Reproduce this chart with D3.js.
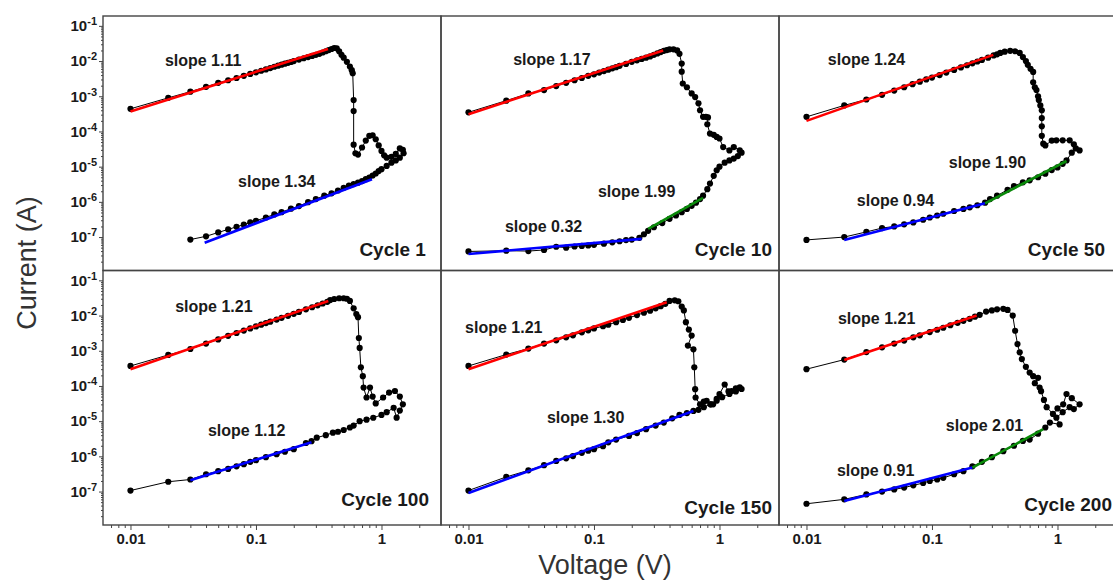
<!DOCTYPE html>
<html><head><meta charset="utf-8">
<script src="https://cdn.jsdelivr.net/npm/d3@7"></script>
<style>
body{margin:0;background:#fff;}
svg{display:block;font-family:"Liberation Sans",Arial,sans-serif;}
</style>
</head><body>
<svg id="chart" width="1113" height="581"></svg>
<script>
// ---------------- DATA ----------------
const cycleNames = ["Cycle 1","Cycle 10","Cycle 50","Cycle 100","Cycle 150","Cycle 200"];

// I-V sweeps [voltage V, current A] in measurement order
const sweep1 = [[0.01,4.4e-4],[0.02,9.0e-4],[0.03,1.35e-3],[0.04,1.85e-3],[0.05,2.4e-3],[0.06,2.85e-3],[0.07,3.3e-3],[0.08,3.8e-3],[0.09,4.3e-3],[0.1,4.8e-3],[0.11,5.3e-3],[0.12,5.8e-3],[0.13,6.3e-3],[0.14,6.9e-3],[0.15,7.4e-3],[0.16,7.9e-3],[0.17,8.4e-3],[0.18,8.9e-3],[0.19,9.4e-3],[0.2,1.0e-2],[0.22,1.1e-2],[0.24,1.2e-2],[0.26,1.3e-2],[0.28,1.4e-2],[0.3,1.5e-2],[0.32,1.6e-2],[0.34,1.75e-2],[0.36,1.9e-2],[0.38,2.05e-2],[0.4,2.2e-2],[0.42,2.35e-2],[0.44,2.3e-2],[0.46,1.9e-2],[0.48,1.5e-2],[0.5,1.25e-2],[0.53,9.5e-3],[0.56,7.0e-3],[0.58,5.5e-3],[0.59,4.5e-3],[0.6,7.8e-4],[0.6,3.8e-4],[0.6,4.2e-5],[0.62,2.4e-5],[0.65,2.2e-5],[0.7,3.5e-5],[0.75,5.5e-5],[0.8,7.5e-5],[0.85,7.8e-5],[0.9,6.0e-5],[0.95,4.0e-5],[1.0,2.8e-5],[1.05,2.1e-5],[1.1,1.8e-5],[1.2,1.9e-5],[1.3,2.3e-5],[1.4,3.3e-5],[1.48,3.0e-5],[1.5,2.4e-5],[1.4,1.8e-5],[1.3,1.5e-5],[1.2,1.3e-5],[1.1,1.05e-5],[1.0,8.5e-6],[0.95,7.5e-6],[0.9,6.4e-6],[0.85,5.6e-6],[0.8,4.9e-6],[0.75,4.4e-6],[0.7,3.9e-6],[0.65,3.5e-6],[0.6,3.2e-6],[0.55,2.9e-6],[0.5,2.5e-6],[0.45,2.1e-6],[0.4,1.75e-6],[0.35,1.5e-6],[0.3,1.2e-6],[0.26,9.8e-7],[0.22,7.6e-7],[0.19,6.4e-7],[0.16,5.1e-7],[0.14,4.4e-7],[0.12,3.6e-7],[0.1,2.9e-7],[0.09,2.6e-7],[0.08,2.25e-7],[0.07,1.95e-7],[0.06,1.65e-7],[0.05,1.35e-7],[0.04,1.05e-7],[0.03,8.5e-8]];

const sweep10 = [[0.01,3.5e-4],[0.02,7.5e-4],[0.03,1.2e-3],[0.04,1.5e-3],[0.05,1.95e-3],[0.06,2.4e-3],[0.07,2.85e-3],[0.08,3.3e-3],[0.09,3.8e-3],[0.1,4.2e-3],[0.11,4.7e-3],[0.12,5.2e-3],[0.13,5.7e-3],[0.14,6.2e-3],[0.15,6.7e-3],[0.16,7.3e-3],[0.18,8.3e-3],[0.2,9.5e-3],[0.22,1.05e-2],[0.24,1.15e-2],[0.26,1.25e-2],[0.28,1.35e-2],[0.3,1.5e-2],[0.32,1.65e-2],[0.34,1.8e-2],[0.36,1.95e-2],[0.38,2.05e-2],[0.4,2.15e-2],[0.43,2.15e-2],[0.46,2.0e-2],[0.48,1.6e-2],[0.5,8.5e-3],[0.5,5.0e-3],[0.51,2.3e-3],[0.55,1.8e-3],[0.6,1.2e-3],[0.64,9.5e-4],[0.68,6.3e-4],[0.7,4.0e-4],[0.74,2.6e-4],[0.78,2.6e-4],[0.81,2.5e-4],[0.8,1.6e-4],[0.84,8.7e-5],[0.9,8.0e-5],[0.95,7.0e-5],[1.0,6.3e-5],[1.07,3.6e-5],[1.2,2.9e-5],[1.3,3.6e-5],[1.45,2.9e-5],[1.5,2.5e-5],[1.4,2.0e-5],[1.3,1.7e-5],[1.2,1.5e-5],[1.1,1.3e-5],[1.0,1.0e-5],[0.95,7.9e-6],[0.9,5.5e-6],[0.84,3.3e-6],[0.8,2.3e-6],[0.74,1.5e-6],[0.7,1.2e-6],[0.65,9.5e-7],[0.6,7.7e-7],[0.55,6.3e-7],[0.5,5.1e-7],[0.45,4.1e-7],[0.4,3.3e-7],[0.35,2.5e-7],[0.3,1.9e-7],[0.27,1.5e-7],[0.25,1.2e-7],[0.23,9.5e-8],[0.2,8.5e-8],[0.18,8.2e-8],[0.16,7.6e-8],[0.14,7.1e-8],[0.12,6.5e-8],[0.1,6.0e-8],[0.09,5.8e-8],[0.08,5.6e-8],[0.07,5.4e-8],[0.06,5.0e-8],[0.05,5.3e-8],[0.04,4.3e-8],[0.03,4.0e-8],[0.02,4.1e-8],[0.01,3.9e-8]];

const sweep50 = [[0.01,2.6e-4],[0.02,5.5e-4],[0.03,8.1e-4],[0.04,1.1e-3],[0.05,1.45e-3],[0.06,1.8e-3],[0.07,2.2e-3],[0.08,2.6e-3],[0.09,3.0e-3],[0.1,3.4e-3],[0.115,4.0e-3],[0.13,4.7e-3],[0.15,5.6e-3],[0.17,6.6e-3],[0.19,7.6e-3],[0.21,8.6e-3],[0.23,9.7e-3],[0.25,1.08e-2],[0.28,1.25e-2],[0.31,1.45e-2],[0.33,1.55e-2],[0.35,1.7e-2],[0.38,1.85e-2],[0.42,1.95e-2],[0.46,1.9e-2],[0.5,1.7e-2],[0.53,1.3e-2],[0.56,1.0e-2],[0.58,7.8e-3],[0.61,6.0e-3],[0.64,4.9e-3],[0.64,2.5e-3],[0.66,1.8e-3],[0.68,1.5e-3],[0.7,1.0e-3],[0.71,7.8e-4],[0.73,5.5e-4],[0.75,4.0e-4],[0.75,2.4e-4],[0.75,1.4e-4],[0.75,7.5e-5],[0.77,4.5e-5],[0.8,4.0e-5],[0.9,5.5e-5],[0.98,5.6e-5],[1.1,5.6e-5],[1.25,5.6e-5],[1.35,4.3e-5],[1.5,2.9e-5],[1.4,3.3e-5],[1.3,2.5e-5],[1.18,1.5e-5],[1.1,1.2e-5],[1.0,9.5e-6],[0.9,8.0e-6],[0.8,6.3e-6],[0.7,5.0e-6],[0.6,4.1e-6],[0.53,3.6e-6],[0.45,2.8e-6],[0.4,2.2e-6],[0.33,1.5e-6],[0.29,1.2e-6],[0.265,9.5e-7],[0.23,8.0e-7],[0.2,7.0e-7],[0.178,6.3e-7],[0.15,5.5e-7],[0.123,4.6e-7],[0.11,4.1e-7],[0.096,3.6e-7],[0.085,3.1e-7],[0.071,2.6e-7],[0.06,2.3e-7],[0.05,2.0e-7],[0.04,1.8e-7],[0.03,1.4e-7],[0.02,1.0e-7],[0.01,8.3e-8]];

const sweep100 = [[0.01,3.7e-4],[0.02,7.6e-4],[0.03,1.12e-3],[0.04,1.6e-3],[0.05,2.1e-3],[0.06,2.65e-3],[0.07,3.2e-3],[0.08,3.75e-3],[0.09,4.3e-3],[0.1,4.9e-3],[0.11,5.5e-3],[0.12,6.1e-3],[0.13,6.7e-3],[0.146,7.7e-3],[0.16,8.6e-3],[0.18,9.8e-3],[0.2,1.12e-2],[0.22,1.27e-2],[0.25,1.5e-2],[0.28,1.72e-2],[0.31,1.95e-2],[0.34,2.2e-2],[0.37,2.45e-2],[0.39,2.75e-2],[0.42,2.95e-2],[0.46,3.1e-2],[0.5,3.1e-2],[0.53,3.0e-2],[0.56,2.6e-2],[0.6,1.6e-2],[0.63,1.1e-2],[0.65,9.0e-3],[0.66,2.3e-3],[0.67,1.2e-3],[0.685,3.4e-4],[0.71,1.9e-4],[0.72,9.0e-5],[0.76,4.7e-5],[0.81,9.0e-5],[0.85,5.0e-5],[0.9,3.2e-5],[1.03,4.7e-5],[1.15,6.5e-5],[1.28,7.2e-5],[1.4,5.0e-5],[1.48,3.0e-5],[1.4,2.0e-5],[1.32,1.26e-5],[1.25,2.4e-5],[1.1,1.8e-5],[1.0,1.5e-5],[0.86,1.25e-5],[0.76,1.1e-5],[0.67,1.0e-5],[0.6,7.5e-6],[0.56,6.6e-6],[0.5,5.6e-6],[0.45,5.0e-6],[0.41,4.7e-6],[0.36,4.0e-6],[0.305,3.4e-6],[0.277,2.7e-6],[0.25,2.4e-6],[0.2,1.6e-6],[0.17,1.35e-6],[0.146,1.15e-6],[0.12,9.5e-7],[0.1,7.8e-7],[0.09,7.0e-7],[0.08,6.0e-7],[0.07,5.2e-7],[0.06,4.4e-7],[0.05,3.8e-7],[0.04,3.1e-7],[0.03,2.2e-7],[0.02,1.9e-7],[0.01,1.07e-7]];

const sweep150 = [[0.01,3.7e-4],[0.02,7.8e-4],[0.03,1.15e-3],[0.04,1.6e-3],[0.05,1.98e-3],[0.06,2.4e-3],[0.068,2.75e-3],[0.08,3.35e-3],[0.09,3.8e-3],[0.1,4.3e-3],[0.118,5.0e-3],[0.13,5.5e-3],[0.15,6.5e-3],[0.17,7.5e-3],[0.19,8.6e-3],[0.22,1.03e-2],[0.25,1.2e-2],[0.28,1.38e-2],[0.31,1.6e-2],[0.34,1.85e-2],[0.37,2.15e-2],[0.4,2.6e-2],[0.44,2.7e-2],[0.47,2.55e-2],[0.5,1.8e-2],[0.52,1.4e-2],[0.54,6.5e-3],[0.57,4.0e-3],[0.6,2.7e-3],[0.56,1.4e-3],[0.62,1.1e-3],[0.63,3.4e-4],[0.64,8.1e-5],[0.645,4.7e-5],[0.7,3.0e-5],[0.75,3.6e-5],[0.79,3.8e-5],[0.85,3.0e-5],[0.89,3.0e-5],[0.95,4.3e-5],[1.0,5.9e-5],[1.1,1.1e-4],[1.18,7.0e-5],[1.25,7.2e-5],[1.35,8.5e-5],[1.45,9.1e-5],[1.5,8.2e-5],[1.35,7.0e-5],[1.2,5.9e-5],[1.05,4.8e-5],[0.95,3.8e-5],[0.85,3.0e-5],[0.75,2.5e-5],[0.68,2.1e-5],[0.62,1.95e-5],[0.55,1.7e-5],[0.48,1.5e-5],[0.42,1.2e-5],[0.36,9.1e-6],[0.31,7.5e-6],[0.26,5.9e-6],[0.22,4.6e-6],[0.19,3.8e-6],[0.15,3.0e-6],[0.13,2.5e-6],[0.118,1.95e-6],[0.1,1.6e-6],[0.09,1.45e-6],[0.08,1.26e-6],[0.068,1.02e-6],[0.06,8.8e-7],[0.05,7.4e-7],[0.04,5.6e-7],[0.03,4.0e-7],[0.02,2.6e-7],[0.01,1.07e-7]];

const sweep200 = [[0.01,3.0e-4],[0.02,5.6e-4],[0.03,9.2e-4],[0.04,1.25e-3],[0.05,1.6e-3],[0.06,1.95e-3],[0.071,2.4e-3],[0.08,2.75e-3],[0.096,3.4e-3],[0.11,3.95e-3],[0.123,4.5e-3],[0.14,5.3e-3],[0.16,6.2e-3],[0.178,7.1e-3],[0.2,8.1e-3],[0.22,9.3e-3],[0.24,1.05e-2],[0.27,1.3e-2],[0.3,1.4e-2],[0.33,1.5e-2],[0.37,1.55e-2],[0.4,1.45e-2],[0.44,1.0e-2],[0.46,3.7e-3],[0.48,1.55e-3],[0.5,9.0e-4],[0.52,5.8e-4],[0.56,3.5e-4],[0.6,2.4e-4],[0.64,1.9e-4],[0.7,1.7e-4],[0.66,1.2e-4],[0.72,9.0e-5],[0.74,7.1e-5],[0.78,4.0e-5],[0.82,2.5e-5],[0.92,1.6e-5],[1.0,2.3e-5],[1.11,3.0e-5],[1.18,5.9e-5],[1.3,4.5e-5],[1.5,3.0e-5],[1.35,2.2e-5],[1.25,2.5e-5],[1.1,1.8e-5],[0.98,1.26e-5],[1.04,8.1e-6],[0.87,9.1e-6],[0.8,6.6e-6],[0.7,4.4e-6],[0.6,3.0e-6],[0.53,2.75e-6],[0.45,2.0e-6],[0.37,1.4e-6],[0.3,9.5e-7],[0.25,7.0e-7],[0.21,5.2e-7],[0.178,3.8e-7],[0.15,3.1e-7],[0.123,2.45e-7],[0.11,2.2e-7],[0.096,2.0e-7],[0.085,1.75e-7],[0.071,1.5e-7],[0.06,1.3e-7],[0.05,1.15e-7],[0.04,1.0e-7],[0.03,8.3e-8],[0.02,6.0e-8],[0.01,4.5e-8]];

// power-law fit segments: kind, [V start, V end], [I start, I end]
const fits1   = [{kind:"high",v:[0.01,0.375],i:[3.7e-4,2.2e-2]},{kind:"low",v:[0.039,0.84],i:[6.9e-8,4.4e-6]}];
const fits10  = [{kind:"high",v:[0.01,0.356],i:[3.1e-4,2.0e-2]},{kind:"low",v:[0.01,0.24],i:[3.3e-8,8.9e-8]},{kind:"mid",v:[0.27,0.74],i:[1.7e-7,1.3e-6]}];
const fits50  = [{kind:"high",v:[0.01,0.308],i:[2.0e-4,1.5e-2]},{kind:"low",v:[0.02,0.265],i:[8.3e-8,9.1e-7]},{kind:"mid",v:[0.265,1.18],i:[9.1e-7,1.45e-5]}];
const fits100 = [{kind:"high",v:[0.01,0.377],i:[3.0e-4,2.6e-2]},{kind:"low",v:[0.03,0.277],i:[2.1e-7,2.5e-6]}];
const fits150 = [{kind:"high",v:[0.01,0.38],i:[3.0e-4,2.4e-2]},{kind:"low",v:[0.01,0.62],i:[9.1e-8,1.95e-5]}];
const fits200 = [{kind:"high",v:[0.02,0.227],i:[5.5e-4,1.0e-2]},{kind:"low",v:[0.02,0.21],i:[5.4e-8,4.8e-7]},{kind:"mid",v:[0.21,0.77],i:[4.8e-7,5.9e-6]}];

// slope annotations anchored in data coordinates (V, I)
const slopes1   = [{text:"slope 1.11",v:0.0188,i:7.2e-3},{text:"slope 1.34",v:0.072,i:2.6e-6}];
const slopes10  = [{text:"slope 1.17",v:0.0227,i:7.7e-3},{text:"slope 1.99",v:0.1076,i:1.33e-6},{text:"slope 0.32",v:0.0195,i:1.43e-7}];
const slopes50  = [{text:"slope 1.24",v:0.0148,i:7.7e-3},{text:"slope 1.90",v:0.136,i:8.9e-6},{text:"slope 0.94",v:0.0252,i:7.4e-7}];
const slopes100 = [{text:"slope 1.21",v:0.0227,i:1.29e-2},{text:"slope 1.12",v:0.0414,i:3.8e-6}];
const slopes150 = [{text:"slope 1.21",v:0.0094,i:3.27e-3},{text:"slope 1.30",v:0.0422,i:8.9e-6}];
const slopes200 = [{text:"slope 1.21",v:0.0178,i:5.9e-3},{text:"slope 2.01",v:0.129,i:5.3e-6},{text:"slope 0.91",v:0.0175,i:2.75e-7}];

// cycle-name anchors (right end), data coordinates
const cycleAnchors = [[2.26,2.9e-8],[2.62,2.9e-8],[2.39,2.9e-8],[2.39,3.85e-8],[2.62,2.27e-8],[2.72,2.8e-8]];

const xTickValues = [0.01, 0.1, 1];
const xTickLabels = ["0.01", "0.1", "1"];
const yTickExponents = [-1, -2, -3, -4, -5, -6, -7];

// ---------------- DRAW ----------------
const sweeps = [sweep1, sweep10, sweep50, sweep100, sweep150, sweep200];
const fits = [fits1, fits10, fits50, fits100, fits150, fits200];
const slopes = [slopes1, slopes10, slopes50, slopes100, slopes150, slopes200];
const fitColor = {high:"#ff0000", low:"#0000ff", mid:"#0a8a0a"};

const svg = d3.select("#chart");
const panelLeft = 103, panelTop = 16, pw = 338, ph = 254.5;
const x = d3.scaleLog().domain([0.00604, 2.98]).range([0, pw]);
const y = d3.scaleLog().domain([Math.pow(10,-7.95), Math.pow(10,-0.72)]).range([ph, 0]);

const xMinor = [];
[0.001,0.01,0.1,1].forEach(d => { for (let k=2;k<=9;k++){ const v=d*k; if (v>=0.00604 && v<=2.98) xMinor.push(v);} });
const yMinor = [];
for (let e=-8;e<=-1;e++){ for (let k=2;k<=9;k++){ const v=k*Math.pow(10,e); if (v>=Math.pow(10,-7.95) && v<=Math.pow(10,-0.72)) yMinor.push(v);} }
const yMajor = yTickExponents.map(e => Math.pow(10,e));

svg.append("defs").append("clipPath").attr("id","clipP").append("rect").attr("width",pw).attr("height",ph);

const line = d3.line().x(d => x(d[0])).y(d => y(d[1]));
const FONT = "'Liberation Sans',Arial,sans-serif";

sweeps.forEach((data, p) => {
  const col = p % 3, row = Math.floor(p / 3);
  const g = svg.append("g").attr("transform", `translate(${panelLeft + col*pw},${panelTop + row*ph})`);
  const plot = g.append("g").attr("clip-path","url(#clipP)");

  plot.append("path").datum(data).attr("d", line)
    .attr("fill","none").attr("stroke","#000").attr("stroke-width",1);
  plot.selectAll("circle").data(data).join("circle")
    .attr("cx", d => x(d[0])).attr("cy", d => y(d[1])).attr("r", 3.1).attr("fill","#000");

  plot.selectAll("line.fit").data(fits[p]).join("line").attr("class","fit")
    .attr("x1", d => x(d.v[0])).attr("y1", d => y(d.i[0]))
    .attr("x2", d => x(d.v[1])).attr("y2", d => y(d.i[1]))
    .attr("stroke", d => fitColor[d.kind]).attr("stroke-width", 2.6).attr("stroke-linecap","butt");

  g.selectAll("text.slope").data(slopes[p]).join("text").attr("class","slope")
    .attr("x", d => x(d.v)).attr("y", d => y(d.i))
    .style("font-family", FONT).style("font-size","16px").style("font-weight","bold").attr("fill","#1a1a1a")
    .text(d => d.text);

  g.append("text")
    .attr("x", x(cycleAnchors[p][0])).attr("y", y(cycleAnchors[p][1]))
    .attr("text-anchor","end").style("font-family", FONT).style("font-size","19px").style("font-weight","bold").attr("fill","#1a1a1a")
    .text(cycleNames[p]);

  g.append("rect").attr("width",pw).attr("height",ph)
    .attr("fill","none").attr("stroke","#444").attr("stroke-width",1.4);

  if (col === 0) {
    const ax = g.append("g").call(d3.axisLeft(y).tickValues(yMajor).tickSize(4).tickPadding(2));
    ax.select(".domain").remove();
    ax.selectAll(".tick line").attr("stroke","#444");
    ax.selectAll(".tick text").each(function(d){
      const t = d3.select(this);
      const e = Math.round(Math.log10(d));
      t.text(null).style("font-family", FONT).style("font-size","15px").style("font-weight","bold").attr("fill","#1a1a1a");
      t.append("tspan").text("10");
      t.append("tspan").attr("dy",-6).style("font-size","11px").text(String(e));
    });
    const axm = g.append("g").call(d3.axisLeft(y).tickValues(yMinor).tickSize(2).tickFormat(""));
    axm.select(".domain").remove();
    axm.selectAll(".tick line").attr("stroke","#444");
  }
  if (row === 1) {
    const ax = g.append("g").attr("transform",`translate(0,${ph})`)
      .call(d3.axisBottom(x).tickValues(xTickValues).tickSize(5).tickPadding(3)
        .tickFormat((d,i) => xTickLabels[i]));
    ax.select(".domain").remove();
    ax.selectAll(".tick line").attr("stroke","#444");
    ax.selectAll(".tick text").style("font-family", FONT).style("font-size","15px").style("font-weight","bold").attr("fill","#1a1a1a");
    const axm = g.append("g").attr("transform",`translate(0,${ph})`)
      .call(d3.axisBottom(x).tickValues(xMinor).tickSize(3).tickFormat(""));
    axm.select(".domain").remove();
    axm.selectAll(".tick line").attr("stroke","#444");
  }
});

svg.append("text").attr("transform","translate(36,263) rotate(-90)")
  .attr("text-anchor","middle").style("font-family", FONT).style("font-size","27px").attr("fill","#333").text("Current (A)");
svg.append("text").attr("x",605).attr("y",574)
  .attr("text-anchor","middle").style("font-family", FONT).style("font-size","27px").attr("fill","#333").text("Voltage (V)");
</script>
</body></html>
